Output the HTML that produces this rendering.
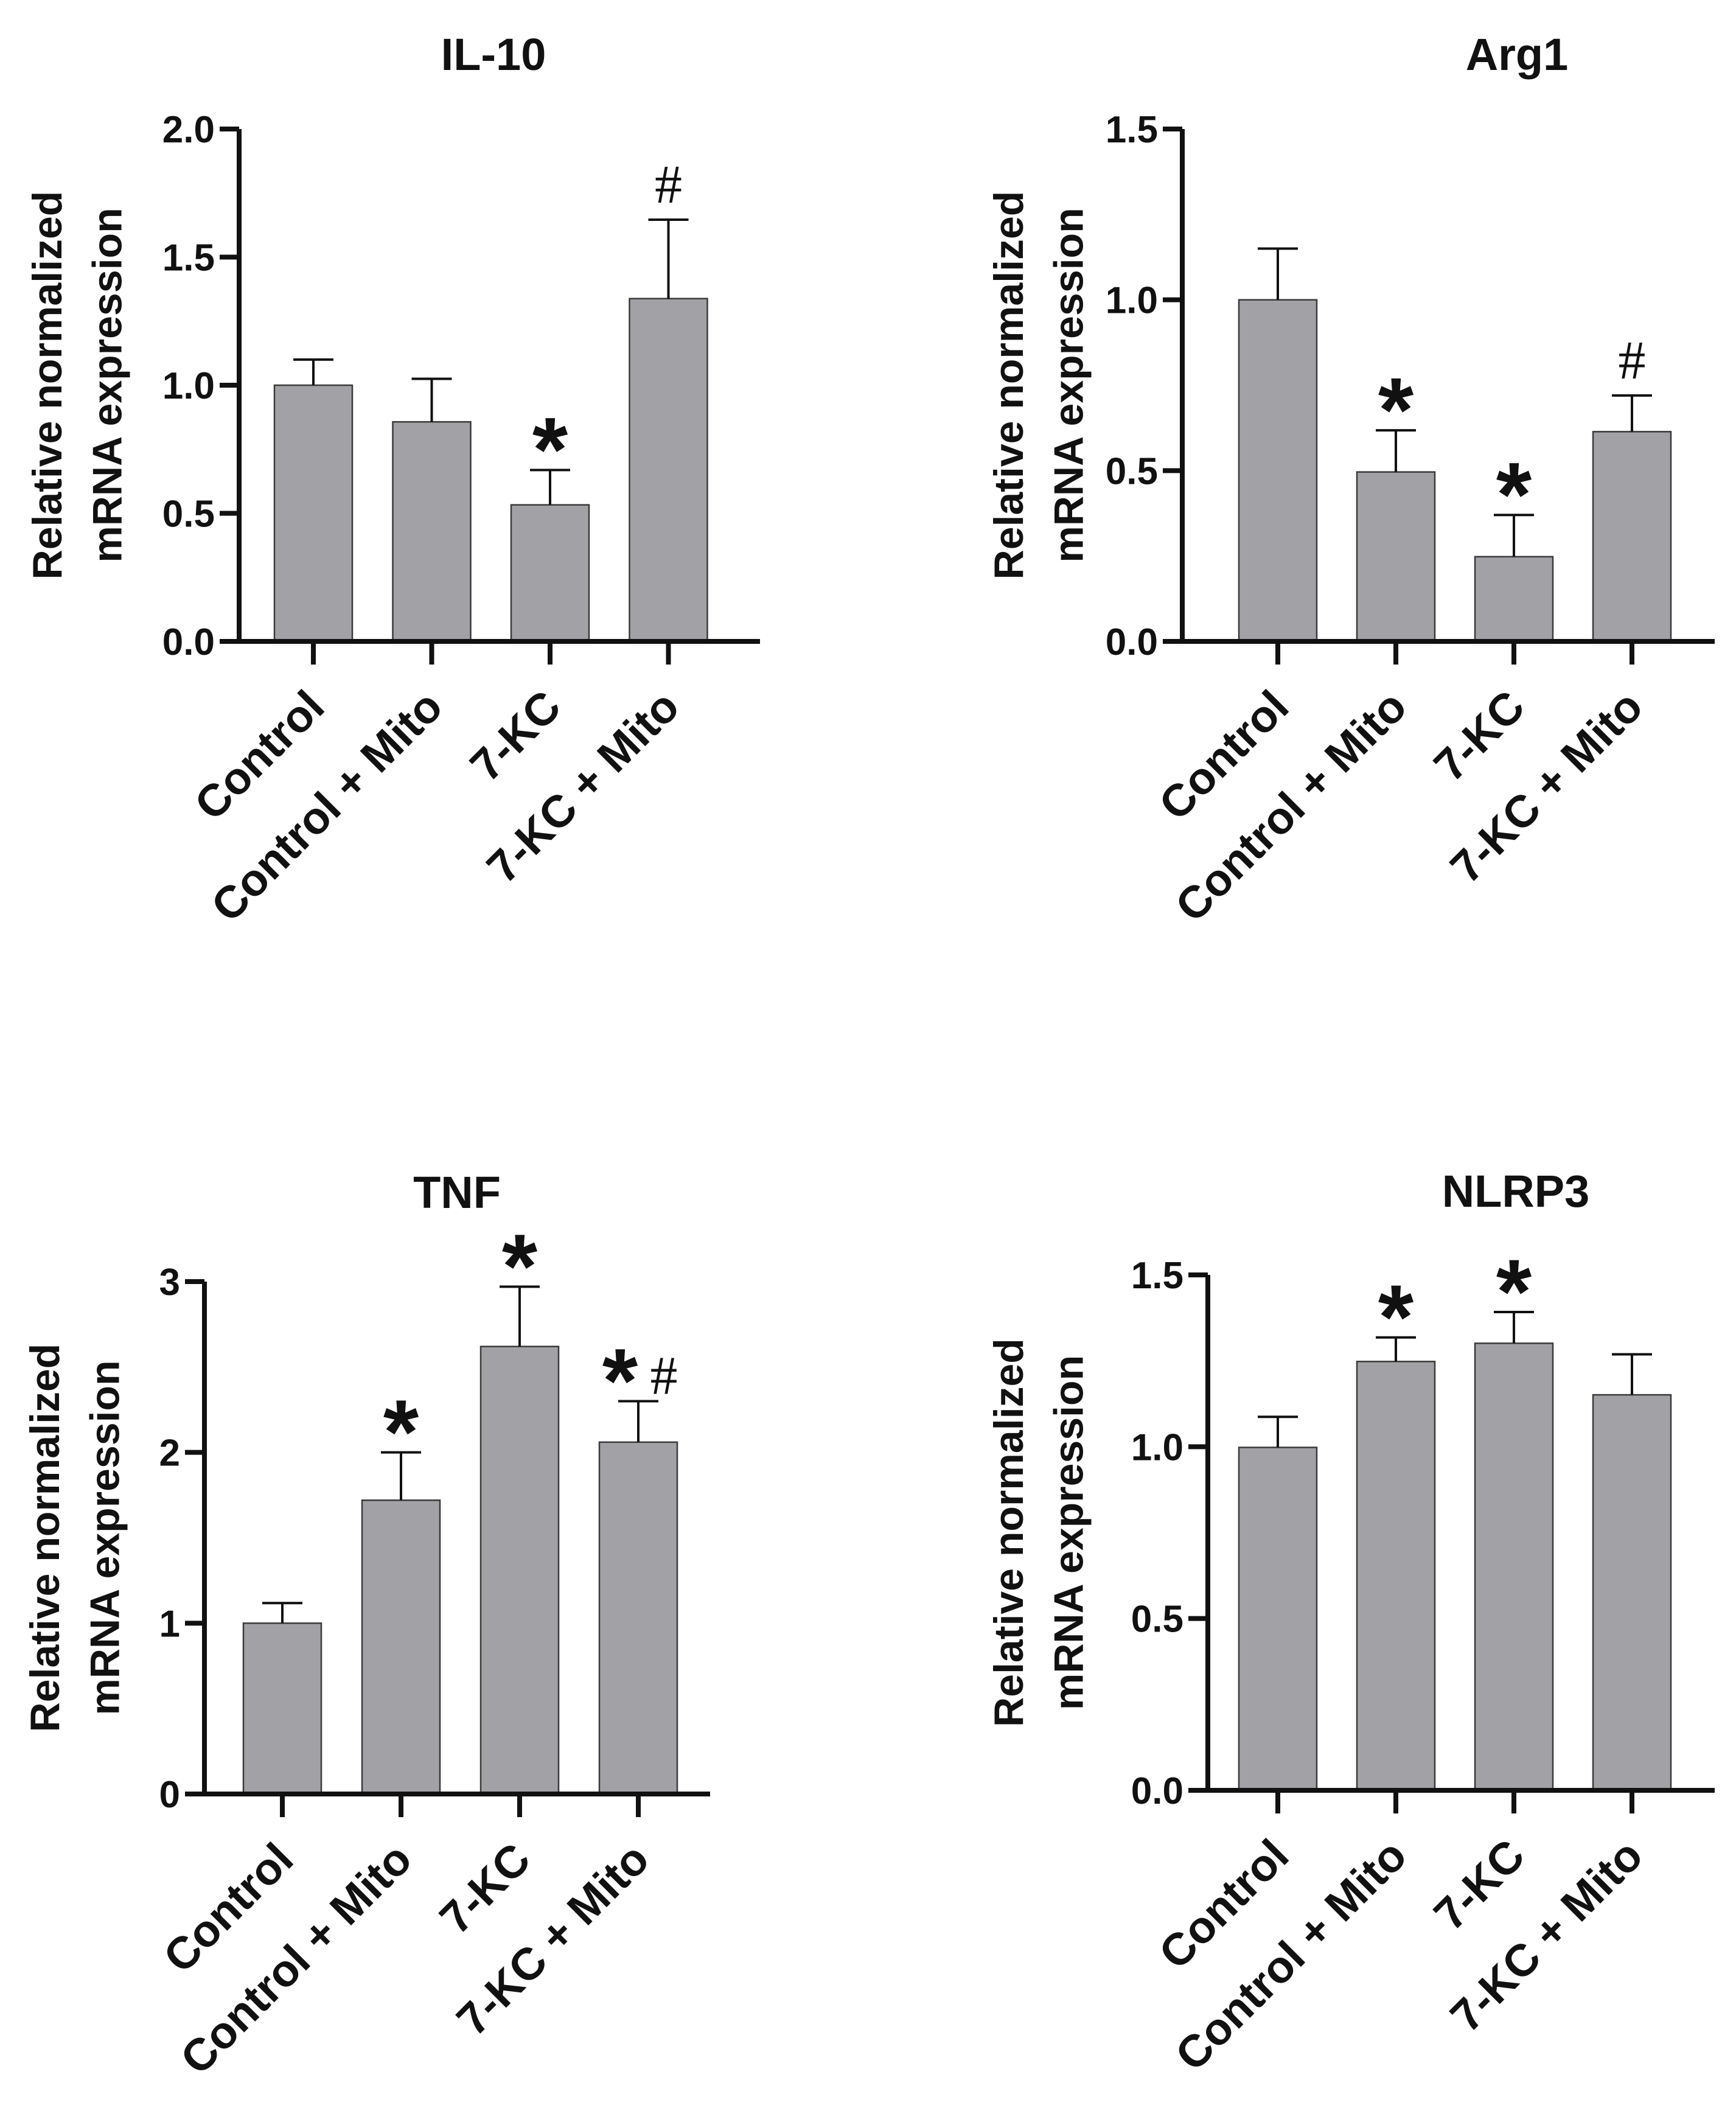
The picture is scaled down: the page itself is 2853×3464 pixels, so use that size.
<!DOCTYPE html>
<html><head><meta charset="utf-8">
<style>
html,body{margin:0;padding:0;background:#fff;}
svg{display:block;font-family:"Liberation Sans",Arial,sans-serif;}
</style></head>
<body>
<svg id="fig" width="2853" height="3464" viewBox="0 0 2853 3464" xmlns="http://www.w3.org/2000/svg"></svg>
<script>
const categories = ["Control", "Control + Mito", "7-KC", "7-KC + Mito"];
const il10Values = [1.0, 0.857, 0.533, 1.338];
const il10Errors = [1.1, 1.025, 0.669, 1.646];
const il10Marks = ["", "", "*", "#"];
const il10Ticks = ["0.0", "0.5", "1.0", "1.5", "2.0"];
const arg1Values = [1.0, 0.496, 0.248, 0.614];
const arg1Errors = [1.15, 0.618, 0.37, 0.72];
const arg1Marks = ["", "*", "*", "#"];
const arg1Ticks = ["0.0", "0.5", "1.0", "1.5"];
const tnfValues = [1.0, 1.72, 2.62, 2.06];
const tnfErrors = [1.118, 2.0, 2.97, 2.3];
const tnfMarks = ["", "*", "*", "*#"];
const tnfTicks = ["0", "1", "2", "3"];
const nlrp3Values = [0.998, 1.248, 1.301, 1.151];
const nlrp3Errors = [1.087, 1.318, 1.392, 1.269];
const nlrp3Marks = ["", "*", "*", ""];
const nlrp3Ticks = ["0.0", "0.5", "1.0", "1.5"];

const NS = "http://www.w3.org/2000/svg";
const svg = document.getElementById("fig");
function mk(tag, attrs, parent) {
  const e = document.createElementNS(NS, tag);
  for (const k in attrs) e.setAttribute(k, attrs[k]);
  (parent || svg).appendChild(e);
  return e;
}

const panels = [
  {key:"il10", title:"IL-10", values:il10Values, errors:il10Errors, marks:il10Marks, ticks:il10Ticks,
   ax:393, y0:1054, yTop:212, xEnd:1249, firstTick:515, step:194.5, titleX:811, titleY:221, labX:101},
  {key:"arg1", title:"Arg1", values:arg1Values, errors:arg1Errors, marks:arg1Marks, ticks:arg1Ticks,
   ax:1943, y0:1054, yTop:212, xEnd:2818, firstTick:2100, step:194, titleX:2493, titleY:221, labX:1681},
  {key:"tnf", title:"TNF", values:tnfValues, errors:tnfErrors, marks:tnfMarks, ticks:tnfTicks,
   ax:336, y0:2948, yTop:2106, xEnd:1167, firstTick:464, step:195, titleX:751, titleY:1985, labX:97},
  {key:"nlrp3", title:"NLRP3", values:nlrp3Values, errors:nlrp3Errors, marks:nlrp3Marks, ticks:nlrp3Ticks,
   ax:1985, y0:2942, yTop:2095, xEnd:2818, firstTick:2100, step:194, titleX:2491, titleY:1983, labX:1681}
];
// note: titleY adjusted below
panels[0].titleY = 115; panels[1].titleY = 115;

panels.forEach(p => {
  const g = mk("g", {});
  
  
  const tMax = parseFloat(p.ticks[p.ticks.length - 1]);
  const yS = v => p.y0 - (v / tMax) * (p.y0 - p.yTop);
  const xS = i => p.firstTick + i * p.step;
  const bw = 128;

  const title = mk("text", {x:p.titleX, y:p.titleY, "text-anchor":"middle", "font-size":"74", "font-weight":"bold", fill:"#111"}, g);
  title.textContent = p.title;
  
  

  const yc = (p.y0 + p.yTop) / 2;
  const yl = mk("text", {transform:`translate(${p.labX},${yc}) rotate(-90)`, "text-anchor":"middle", "font-size":"68", "font-weight":"bold", fill:"#111"}, g);
  
  
  const t1 = mk("tspan", {x:0, dy:0}, yl); t1.textContent = "Relative normalized";
  const t2 = mk("tspan", {x:0, dy:"1.45em"}, yl); t2.textContent = "mRNA expression";

  p.values.forEach((v, i) => {
    const cx = xS(i);
    const r = mk("rect", {x:cx - bw/2, y:yS(v), width:bw, height:p.y0 - yS(v), fill:"#a2a2a6", stroke:"#3a3a3a", "stroke-width":"2.5"}, g);
    
    
    const eTop = yS(p.errors[i]);
    const el = mk("path", {d:`M${cx},${yS(v)} V${eTop} M${cx-33},${eTop} H${cx+33}`, stroke:"#111", "stroke-width":"4", fill:"none"}, g);
    
    
    const m = p.marks[i];
    if (m) {
      const star = m.indexOf("*") >= 0, hash = m.indexOf("#") >= 0;
      if (star) {
        const sx = hash ? cx - 30 : cx;
        const s = mk("text", {x:sx, y:eTop + 18, "text-anchor":"middle", "font-size":"150", "font-weight":"bold", fill:"#111"}, g);
        s.textContent = "*";
        
        
      }
      if (hash) {
        const hx = star ? cx + 42 : cx;
        const hy = star ? eTop - 12 : eTop - 28;
        const h = mk("text", {x:hx, y:hy, "text-anchor":"middle", "font-size":"90", "font-family":"Liberation Serif, serif", fill:"#111"}, g);
        h.textContent = "#";
        
        
      }
    }
    mk("line", {x1:cx, y1:p.y0, x2:cx, y2:p.y0 + 38, stroke:"#111", "stroke-width":"8"}, g);
    const lab = mk("text", {transform:`translate(${cx + 22},${p.y0 + 112}) rotate(-45)`, "text-anchor":"end", "font-size":"74", "font-weight":"bold", fill:"#111"}, g);
    lab.textContent = categories[i];
    
    
  });

  const axes = mk("path", {d:`M${p.ax},${p.yTop} V${p.y0} H${p.xEnd}`, stroke:"#111", "stroke-width":"8", fill:"none"}, g);
  
  
  p.ticks.forEach(t => {
    const y = yS(parseFloat(t));
    mk("line", {x1:p.ax - 32, y1:y, x2:p.ax, y2:y, stroke:"#111", "stroke-width":"8"}, g);
    const tl = mk("text", {x:p.ax - 40, y:y + 22, "text-anchor":"end", "font-size":"62", "font-weight":"bold", fill:"#111"}, g);
    tl.textContent = t;
    
    
  });
});
</script>
</body></html>
